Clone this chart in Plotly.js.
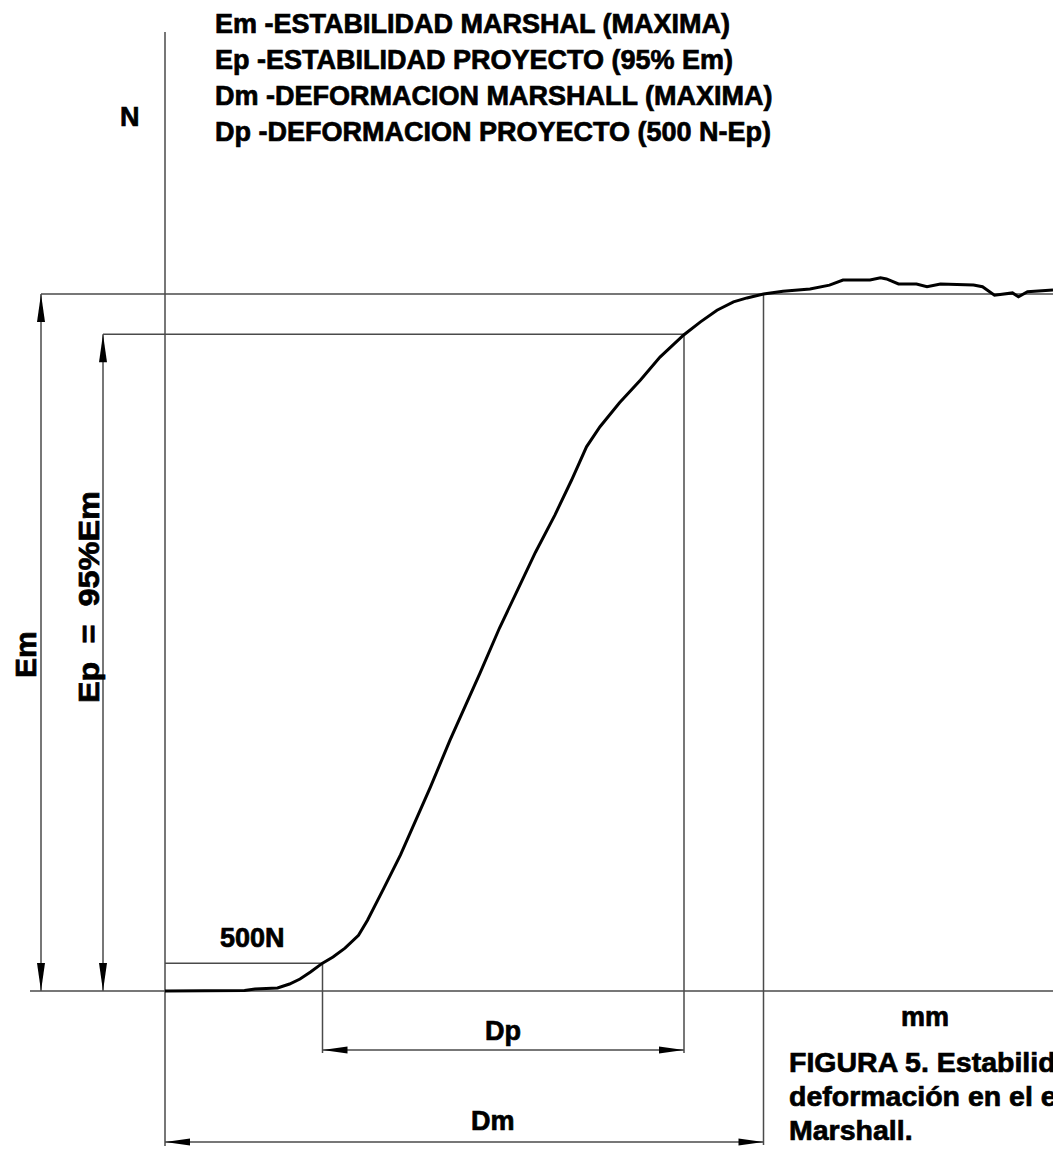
<!DOCTYPE html>
<html><head><meta charset="utf-8">
<script src="https://cdn.plot.ly/plotly-3.0.1.min.js"></script>
<style>
html,body{margin:0;padding:0;overflow:hidden;background:#fff}
#chart text.annotation-text{stroke:#000;stroke-width:0.7px;}
</style>
</head><body><div id="chart" style="width:1053px;height:1151px"></div>
<script>
// ---- data (deformation in mm, load in N) ----
const deformation_mm = [0, 0.23, 0.43, 0.53, 0.60, 0.67, 0.75, 0.83, 0.90, 0.97, 1.05, 1.12, 1.20, 1.29, 1.35, 1.46, 1.57, 1.77, 1.90, 2.10, 2.23, 2.35, 2.47, 2.60, 2.71, 2.81, 2.90, 3.03, 3.17, 3.30, 3.46, 3.57, 3.68, 3.79, 3.88, 3.99, 4.12, 4.30, 4.43, 4.52, 4.70, 4.77, 4.81, 4.89, 5.01, 5.08, 5.17, 5.39, 5.45, 5.53, 5.65, 5.69, 5.75, 5.92];
const load_N = [0, 5, 10, 10, 35, 45, 55, 125, 215, 340, 500, 610, 770, 1000, 1270, 1850, 2440, 3660, 4500, 5700, 6510, 7190, 7870, 8540, 9160, 9760, 10120, 10550, 10960, 11370, 11770, 12000, 12210, 12360, 12430, 12500, 12550, 12590, 12660, 12750, 12750, 12790, 12770, 12680, 12680, 12630, 12680, 12660, 12630, 12480, 12520, 12450, 12540, 12570];

const Em_N = 12500;        // estabilidad Marshall (maxima)
const Ep_N = 11780;        // estabilidad proyecto
const start_N = 500;       // 500 N
const Dp_start_mm = 1.05;
const Dp_end_mm = 3.46;
const Dm_mm = 3.99;

const legendLines = [
  "Em -ESTABILIDAD MARSHAL (MAXIMA)",
  "Ep -ESTABILIDAD PROYECTO (95% Em)",
  "Dm -DEFORMACION MARSHALL (MAXIMA)",
  "Dp -DEFORMACION PROYECTO (500 N-Ep)"
];
const captionLines = ["FIGURA 5. Estabilidad y", "deformación en el ensayo", "Marshall."];
const yAxisLabel = "N", xAxisLabel = "mm";
const emLabel = "Em", epLabel = "Ep  =  95%Em", startLabel = "500N", dpLabel = "Dp", dmLabel = "Dm";

// ---- layout helpers ----
const W = 1053, H = 1151;
const xRange = [-1.1, 5.92], yRange = [-2869, 17773];
const mmPerPx = (xRange[1] - xRange[0]) / W;
const nPerPx = (yRange[1] - yRange[0]) / H;
const X = px => xRange[0] + px * mmPerPx;
const Y = py => yRange[1] - py * nPerPx;

const GUIDE = '#4a4a4a';
const FONT = {family: '"Liberation Sans", Arial, sans-serif', size: 27, color: '#000', weight: 'bold'};

const shapes = [];
function line(x0, y0, x1, y1, w) {
  shapes.push({type: 'line', xref: 'x', yref: 'y', x0, y0, x1, y1, line: {color: GUIDE, width: w || 1.5}, layer: 'below'});
}
function headV(x, yTip, dir) { // dir +1 pointing up, -1 pointing down
  const l = 28 * nPerPx * dir, w = 4 * mmPerPx;
  shapes.push({type: 'path', xref: 'x', yref: 'y', path: `M${x},${yTip} L${x - w},${yTip - l} L${x + w},${yTip - l} Z`, fillcolor: '#000', line: {width: 0}});
}
function headH(xTip, y, dir) { // dir +1 pointing right, -1 pointing left
  const l = 25 * mmPerPx * dir, w = 3.6 * nPerPx;
  shapes.push({type: 'path', xref: 'x', yref: 'y', path: `M${xTip},${y} L${xTip - l},${y - w} L${xTip - l},${y + w} Z`, fillcolor: '#000', line: {width: 0}});
}

const emX = X(41), epX = X(103), dpY = Y(1050), dmY = Y(1142);
const rightEdge = xRange[1];

// axes lines
line(0, Y(32), 0, Y(1146));
line(X(30), 0, rightEdge, 0);
// Em / Ep / 500 N guides
line(emX, Em_N, rightEdge, Em_N);
line(epX, Ep_N, Dp_end_mm, Ep_N);
line(0, start_N, Dp_start_mm, start_N);
// extension lines
line(Dp_start_mm, start_N, Dp_start_mm, Y(1053));
line(Dp_end_mm, Ep_N, Dp_end_mm, Y(1053));
line(Dm_mm, Em_N, Dm_mm, Y(1145));
// dimension lines
line(emX, 0, emX, Em_N);
line(epX, 0, epX, Ep_N);
line(Dp_start_mm, dpY, Dp_end_mm, dpY);
line(0, dmY, Dm_mm, dmY);
headV(emX, Em_N, 1); headV(emX, 0, -1);
headV(epX, Ep_N, 1); headV(epX, 0, -1);
headH(Dp_start_mm, dpY, -1); headH(Dp_end_mm, dpY, 1);
headH(0, dmY, -1); headH(Dm_mm, dmY, 1);

const annotations = [];
function txt(text, xpx, ypx, o) {
  annotations.push(Object.assign({text, xref: 'paper', yref: 'paper', x: xpx / W, y: 1 - ypx / H,
    xanchor: 'left', yanchor: 'middle', showarrow: false, font: FONT}, o || {}));
}
legendLines.forEach((t, i) => txt(t, 213, 24 + i * 36));
txt(yAxisLabel, 130, 117, {xanchor: 'center'});
txt(emLabel, 25, 655, {xanchor: 'center', textangle: -90, font: Object.assign({}, FONT, {size: 30})});
txt(epLabel, 88, 597, {xanchor: 'center', textangle: -90, font: Object.assign({}, FONT, {size: 30})});
txt(startLabel, 218, 938);
txt(xAxisLabel, 925, 1017, {xanchor: 'center'});
txt(dpLabel, 503, 1031, {xanchor: 'center'});
txt(dmLabel, 493, 1121, {xanchor: 'center'});
captionLines.forEach((t, i) => txt(t, 787, 1062 + i * 34, {font: Object.assign({}, FONT, {size: 28.5})}));

const trace = {x: deformation_mm, y: load_N, type: 'scatter', mode: 'lines',
  line: {color: '#000', width: 3}, hoverinfo: 'skip'};

Plotly.newPlot('chart', [trace], {
  width: W, height: H, margin: {l: 0, r: 0, t: 0, b: 0},
  paper_bgcolor: '#fff', plot_bgcolor: '#fff', showlegend: false,
  xaxis: {range: xRange, visible: false, fixedrange: true},
  yaxis: {range: yRange, visible: false, fixedrange: true},
  shapes, annotations
}, {staticPlot: true, displayModeBar: false}).then(gd => {
  gd.querySelectorAll('text.annotation-text').forEach(t => {
    if (t.textContent.indexOf('95%Em') >= 0) {
      t.setAttribute('textLength', 212);
      t.setAttribute('lengthAdjust', 'spacingAndGlyphs');
    }
  });
});
</script></body></html>
